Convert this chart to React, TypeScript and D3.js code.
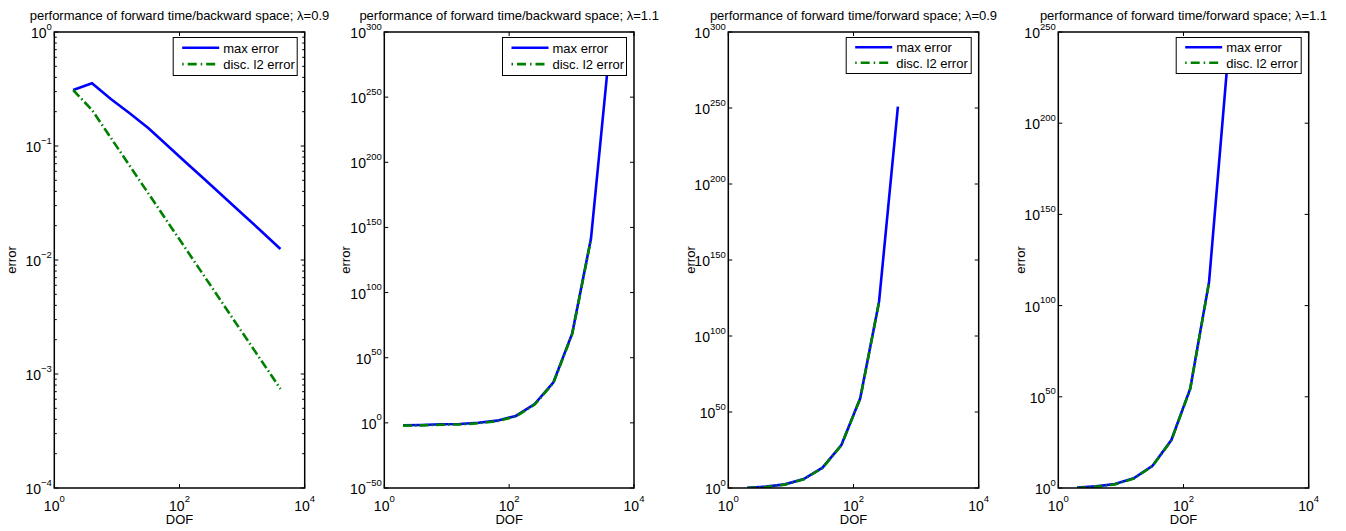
import React from 'react';
import * as d3 from 'd3';

// Degrees of freedom (x values)
const DOF = [2, 4, 8, 16, 32, 64, 128, 256, 512, 1024, 2048, 4096];

// Panel 1: forward time / backward space, λ=0.9
const fbs09Max = [0.31, 0.355, 0.258, 0.194, 0.143, 0.101, 0.0714, 0.0505, 0.0357, 0.0252, 0.0178, 0.0125];
const fbs09L2 = [0.31, 0.207, 0.118, 0.067, 0.0382, 0.0217, 0.0124, 0.00705, 0.00401, 0.00228, 0.0013, 0.00074];

// Panel 2: forward time / backward space, λ=1.1
const fbs11Max = [1.6e-2, 2.5e-2, 8e-2, 1.3e-1, 1.3e0, 5e1, 2e5, 3e14, 1.3e31, 5e68, 4e141, 1e289];
const fbs11L2 = [8e-3, 1.2e-2, 4e-2, 6e-2, 5e-1, 2e1, 8e4, 1e14, 4e30, 1.6e68, 1.3e141];

// Panel 3: forward time / forward space, λ=0.9
const ffs09Max = [1.6, 8, 2.5e2, 8e5, 2.5e13, 2e28, 1e59, 4e122, 8e250];
const ffs09L2 = [1.0, 5, 1.6e2, 5e5, 1.6e13, 1.3e28, 6e58, 2.5e122];

// Panel 4: forward time / forward space, λ=1.1
const ffs11Max = [1.6, 8, 1.6e2, 2e5, 1.6e12, 2e26, 3e54, 1e113, 1e236];
const ffs11L2 = [1.0, 5, 1e2, 1.3e5, 1e12, 1.3e26, 2e54, 6e112];

// Tick exponents
const xTickExps = [0, 2, 4];
const yTicks1 = [-4, -3, -2, -1, 0];
const yTicks2 = [-50, 0, 50, 100, 150, 200, 250, 300];
const yTicks3 = [0, 50, 100, 150, 200, 250, 300];
const yTicks4 = [0, 50, 100, 150, 200, 250];

const titles = [
  'performance of forward time/backward space; λ=0.9',
  'performance of forward time/backward space; λ=1.1',
  'performance of forward time/forward space; λ=0.9',
  'performance of forward time/forward space; λ=1.1',
];
const legendLabels = ['max error', 'disc. l2 error'];

const FONT = '"Liberation Sans", Arial, Helvetica, sans-serif';
const TOP = 32;
const BOTTOM = 488;
const BLUE = '#0000ff';
const GREEN = '#008000';
const TICK_FS = 14;
const EXP_FS = 9.5;

const panels = [
  { title: titles[0], left: 54.3, right: 304.7, yTicks: yTicks1, minor: true, max: fbs09Max, l2: fbs09L2, ylabelX: 12, legW: 124, legH: 38 },
  { title: titles[1], left: 384.3, right: 634, yTicks: yTicks2, minor: false, max: fbs11Max, l2: fbs11L2, ylabelX: 346, legW: 124, legH: 38 },
  { title: titles[2], left: 728.3, right: 978.7, yTicks: yTicks3, minor: false, max: ffs09Max, l2: ffs09L2, ylabelX: 691, legW: 125, legH: 36 },
  { title: titles[3], left: 1058.3, right: 1308.7, yTicks: yTicks4, minor: false, max: ffs11Max, l2: ffs11L2, ylabelX: 1021, legW: 125, legH: 36 },
];

function expLabel(e: number) {
  return e < 0 ? '\u2212' + Math.abs(e) : String(e);
}

function Panel({ p, idx }: { p: any; idx: number }) {
  const yMinE = p.yTicks[0];
  const yMaxE = p.yTicks[p.yTicks.length - 1];
  const x = d3.scaleLog().domain([1, 1e4]).range([p.left, p.right]);
  const y = d3.scaleLog().domain([Math.pow(10, yMinE), Math.pow(10, yMaxE)]).range([BOTTOM, TOP]);
  const line = d3
    .line<[number, number]>()
    .x((d) => x(d[0]))
    .y((d) => y(d[1]));
  const maxPts = p.max.map((v: number, i: number) => [DOF[i], v] as [number, number]);
  const l2Pts = p.l2.map((v: number, i: number) => [DOF[i], v] as [number, number]);
  const clipId = 'clip' + idx;
  const cx = (p.left + p.right) / 2;

  const minorTicks: number[] = [];
  if (p.minor) {
    for (let e = yMinE; e < yMaxE; e++) {
      for (let k = 2; k <= 9; k++) minorTicks.push(k * Math.pow(10, e));
    }
  }

  const legW = p.legW;
  const legH = p.legH;
  const legX = p.right - 7.5 - legW;
  const legY = TOP + 5.5;
  const r1 = legY + legH * 0.27;
  const r2 = legY + legH * 0.7;

  return (
    <g>
      <defs>
        <clipPath id={clipId}>
          <rect x={p.left} y={TOP} width={p.right - p.left} height={BOTTOM - TOP} />
        </clipPath>
      </defs>
      <text x={cx} y={20} textAnchor="middle" fontSize={13} fontFamily={FONT}>
        {p.title}
      </text>
      {xTickExps.map((e) => {
        const xx = x(Math.pow(10, e));
        return (
          <g key={'xt' + e}>
            <line x1={xx} x2={xx} y1={BOTTOM} y2={BOTTOM - 4} stroke="#000" strokeWidth={1} />
            <line x1={xx} x2={xx} y1={TOP} y2={TOP + 4} stroke="#000" strokeWidth={1} />
            <text x={xx} y={510.5} textAnchor="middle" fontSize={TICK_FS} fontFamily={FONT}>
              <tspan>10</tspan>
              <tspan dy={-8.5} fontSize={EXP_FS}>{expLabel(e)}</tspan>
            </text>
          </g>
        );
      })}
      {p.yTicks.map((e: number) => {
        const yy = y(Math.pow(10, e));
        return (
          <g key={'yt' + e}>
            <line x1={p.left} x2={p.left + 4} y1={yy} y2={yy} stroke="#000" strokeWidth={1} />
            <line x1={p.right} x2={p.right - 4} y1={yy} y2={yy} stroke="#000" strokeWidth={1} />
            <text x={p.left - 2.5} y={yy + 6} textAnchor="end" fontSize={TICK_FS} fontFamily={FONT}>
              <tspan>10</tspan>
              <tspan dy={-8.5} fontSize={EXP_FS}>{expLabel(e)}</tspan>
            </text>
          </g>
        );
      })}
      {minorTicks.map((v, i) => {
        const yy = y(v);
        return (
          <g key={'mt' + i}>
            <line x1={p.left} x2={p.left + 2.5} y1={yy} y2={yy} stroke="#000" strokeWidth={1} />
            <line x1={p.right} x2={p.right - 2.5} y1={yy} y2={yy} stroke="#000" strokeWidth={1} />
          </g>
        );
      })}
      <g clipPath={`url(#${clipId})`}>
        <path d={line(maxPts) || ''} fill="none" stroke={BLUE} strokeWidth={2.6} strokeLinejoin="miter" />
        <path d={line(l2Pts) || ''} fill="none" stroke={GREEN} strokeWidth={2.6} strokeDasharray="9 3 1.5 3" />
      </g>
      <rect x={p.left} y={TOP} width={p.right - p.left} height={BOTTOM - TOP} fill="none" stroke="#000" strokeWidth={1.5} />
      <g>
        <rect x={legX} y={legY} width={legW} height={legH} fill="#fff" stroke="#000" strokeWidth={1} />
        <line x1={legX + 9} x2={legX + 46} y1={r1} y2={r1} stroke={BLUE} strokeWidth={2.6} />
        <text x={legX + 50} y={r1 + 5} fontSize={13} fontFamily={FONT}>{legendLabels[0]}</text>
        <line x1={legX + 9} x2={legX + 46} y1={r2} y2={r2} stroke={GREEN} strokeWidth={2.6} strokeDasharray="1.5 4 9 4" />
        <text x={legX + 50} y={r2 + 5} fontSize={13} fontFamily={FONT}>{legendLabels[1]}</text>
      </g>
      <text x={cx} y={523.5} textAnchor="middle" fontSize={13} fontFamily={FONT}>DOF</text>
      <text
        transform={`translate(${p.ylabelX + 4},${(TOP + BOTTOM) / 2}) rotate(-90)`}
        textAnchor="middle"
        fontSize={13}
        fontFamily={FONT}
      >
        error
      </text>
    </g>
  );
}

export default function App() {
  return (
    <svg
      width={1346}
      height={531}
      style={{ position: 'absolute', left: 0, top: 0, background: '#fff' }}
      xmlns="http://www.w3.org/2000/svg"
    >
      <rect width={1346} height={531} fill="#fff" />
      {panels.map((p, i) => (
        <Panel key={i} p={p} idx={i} />
      ))}
    </svg>
  );
}
